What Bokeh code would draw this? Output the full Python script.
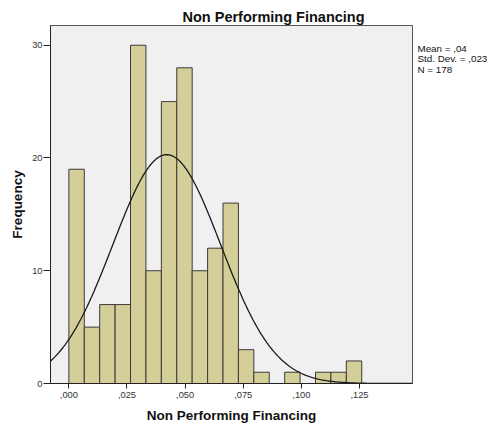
import numpy as np
from bokeh.plotting import figure
from bokeh.models import Range1d, FixedTicker, LinearAxis, Title
from bokeh.embed import file_html
from bokeh.resources import INLINE

# ---- data ----
counts = [19, 5, 7, 7, 30, 10, 25, 28, 10, 12, 16, 3, 1, 0, 1, 0, 1, 1, 2]
bin_start = 0.0
bin_width = 0.00663
x_ticks = [0.0, 0.025, 0.05, 0.075, 0.1, 0.125]
x_tick_labels = [",000", ",025", ",050", ",075", ",100", ",125"]
y_ticks = [0, 10, 20, 30]
mean = 0.0421
std = 0.0232
n_obs = 178
stats_lines = ["Mean = ,04", "Std. Dev. = ,023", "N = 178"]
stats_y = [29.71, 28.78, 27.85]
title_text = "Non Performing Financing"
x_label = "Non Performing Financing"
y_label = "Frequency"

# ---- layout ----
W, H = 491, 427
FONT = "Liberation Sans"
x0, x1 = -0.0079, 0.1478
y0, y1 = 0.0, 31.75

p = figure(width=W, height=H, x_range=Range1d(x0, x1), y_range=Range1d(y0, y1),
           output_backend="svg", toolbar_location=None, title=None,
           min_border_left=50, min_border_top=25,
           min_border_right=79, min_border_bottom=44)
p.background_fill_color = "#F0F0F0"
p.border_fill_color = "white"
p.outline_line_color = "#555555"
p.outline_line_width = 1
p.xgrid.visible = False
p.ygrid.visible = False

edges = [bin_start + i * bin_width for i in range(len(counts) + 1)]
p.quad(left=edges[:-1], right=edges[1:], top=counts, bottom=0,
       fill_color="#D4CF98", line_color="#3A3A3A", line_width=1)

xs = np.linspace(x0, x1, 300)
ys = n_obs * bin_width / (std * np.sqrt(2 * np.pi)) * np.exp(-0.5 * ((xs - mean) / std) ** 2)
p.line(xs, ys, line_color="#1A1A1A", line_width=1.3)

for ax in (p.xaxis, p.yaxis):
    ax.major_tick_in = 0
    ax.minor_tick_line_color = None
    ax.axis_line_color = "#222222"
    ax.major_tick_line_color = "#222222"
    ax.major_label_text_font = FONT
    ax.major_label_text_font_size = "9.3px"
    ax.major_label_text_color = "#333333"
    ax.axis_label_text_font = FONT
    ax.axis_label_text_font_size = "13.5px"
    ax.axis_label_text_font_style = "bold"
    ax.axis_label_text_color = "#111111"

p.xaxis.major_tick_out = 5
p.xaxis.major_label_standoff = 3
p.xaxis.axis_label_standoff = 7
p.yaxis.major_tick_out = 7
p.yaxis.major_label_standoff = 1
p.yaxis.axis_label_standoff = 4

p.xaxis.ticker = FixedTicker(ticks=x_ticks)
p.xaxis.major_label_overrides = {t: l for t, l in zip(x_ticks, x_tick_labels)}
p.xaxis.axis_label = x_label
p.yaxis.ticker = FixedTicker(ticks=y_ticks)
p.yaxis.axis_label = y_label

# statistics text to the right of the frame (an axis without line/ticks)
stats_axis = LinearAxis(ticker=FixedTicker(ticks=stats_y),
                        major_label_overrides={v: s for v, s in zip(stats_y, stats_lines)},
                        axis_line_color=None, major_tick_line_color=None,
                        major_tick_out=0, major_tick_in=0,
                        minor_tick_line_color=None, minor_tick_out=0,
                        major_label_standoff=5,
                        major_label_text_font=FONT, major_label_text_font_size="9.8px",
                        major_label_text_color="#111111")
p.add_layout(stats_axis, "right")

p.add_layout(Title(text=title_text, align="left", offset=132, standoff=2,
                   text_font=FONT, text_font_size="14.5px", text_font_style="bold",
                   text_color="#111111"), "above")

open("out.html", "w").write(file_html(p, INLINE))
